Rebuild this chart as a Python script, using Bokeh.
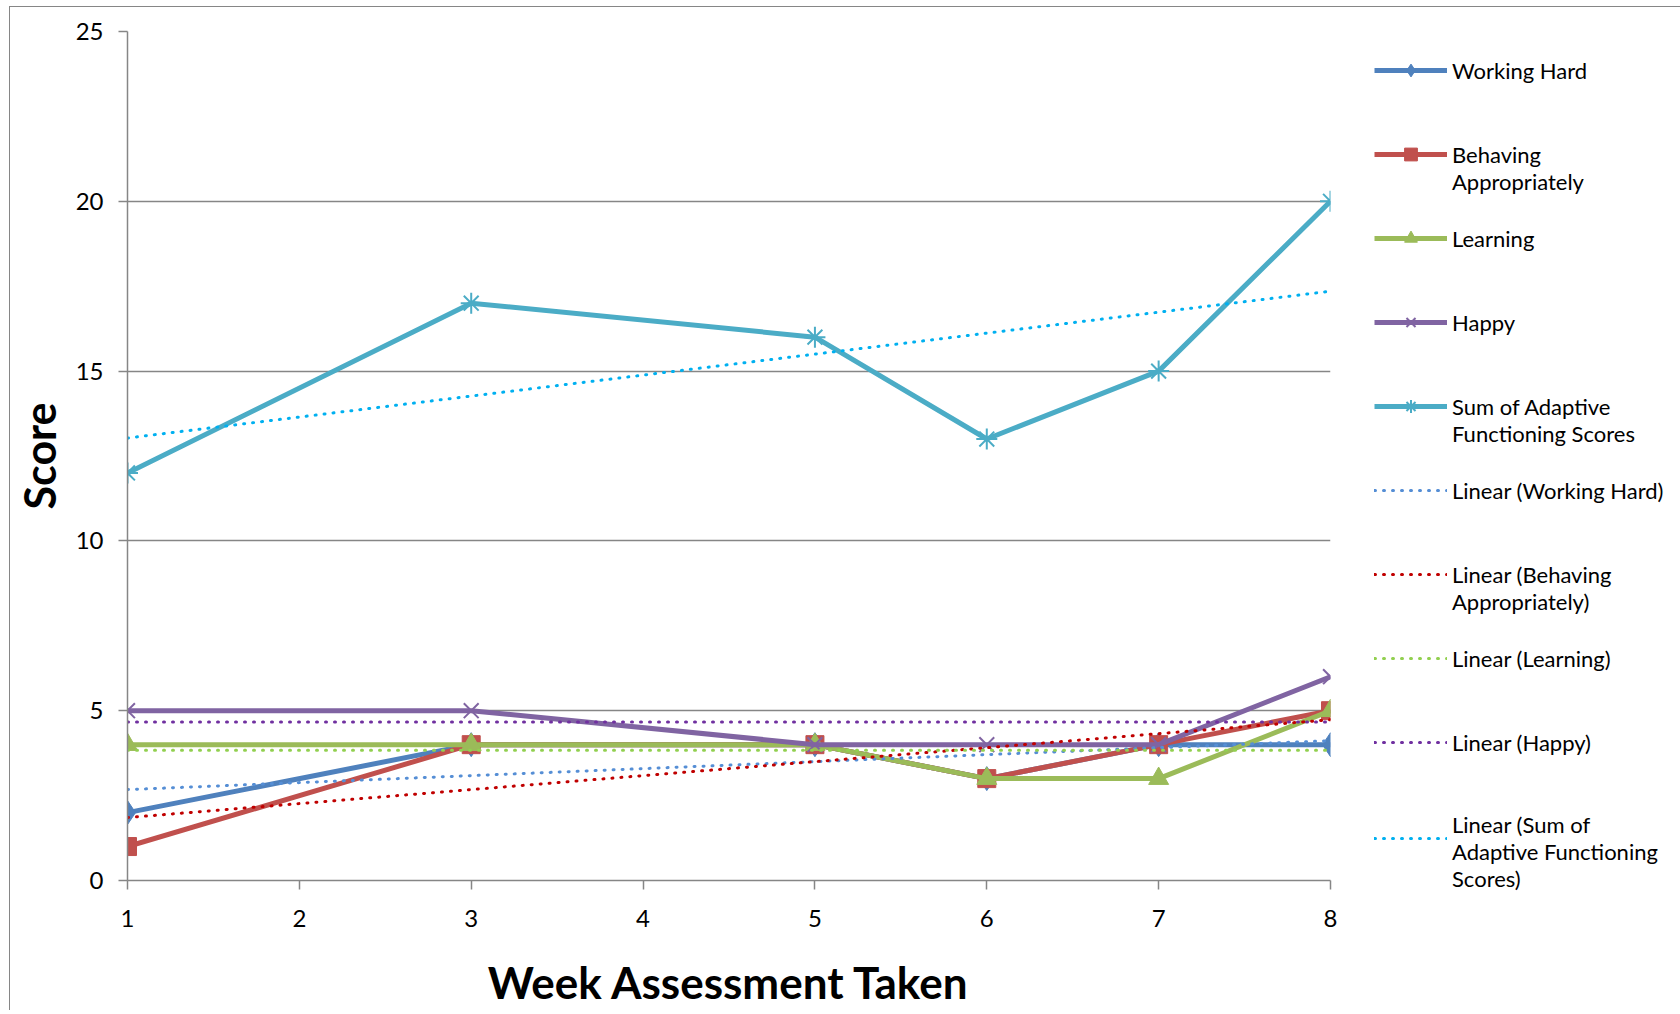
import numpy as np
from bokeh.plotting import figure
from bokeh.models import Legend, LegendItem, Range1d, FixedTicker
from bokeh.embed import file_html
from bokeh.resources import INLINE

weeks = [1, 3, 5, 6, 7, 8]
working_hard = [2, 4, 4, 3, 4, 4]
behaving = [1, 4, 4, 3, 4, 5]
learning = [4, 4, 4, 3, 3, 5]
happy = [5, 5, 4, 4, 4, 6]
sum_scores = [12, 17, 16, 13, 15, 20]
x_ticks = [1, 2, 3, 4, 5, 6, 7, 8]
y_ticks = [0, 5, 10, 15, 20, 25]

series_names = [["Working Hard"], ["Behaving", "Appropriately"], ["Learning"], ["Happy"],
                ["Sum of Adaptive", "Functioning Scores"]]
trend_names = [["Linear (Working Hard)"], ["Linear (Behaving", "Appropriately)"], ["Linear (Learning)"],
               ["Linear (Happy)"], ["Linear (Sum of", "Adaptive Functioning", "Scores)"]]
series_values = [working_hard, behaving, learning, happy, sum_scores]
line_colors = ["#4F81BD", "#C0504D", "#9BBB59", "#8064A2", "#4BACC6"]
trend_colors = ["#558ED5", "#C00000", "#92D050", "#7030A0", "#00B0F0"]
markers = ["diamond", "square", "triangle", "x", "asterisk"]
marker_sizes = [24, 18, 20, 21, 21]

FONT = "Lato"
PAD = "\u00a0"


def legend_label(lines):
    # pad above so that the first text line sits next to the legend glyph
    n_pad = min(len(lines) - 1, 1)
    return "\n".join([PAD] * n_pad + lines)


p = figure(frame_width=1203, frame_height=849, output_backend="svg", toolbar_location=None,
           x_range=Range1d(1, 8), y_range=Range1d(0, 25),
           min_border_left=116, min_border_right=0, min_border_top=24, min_border_bottom=0)
p.outline_line_color = None
p.background_fill_color = "white"
p.border_fill_color = "white"

p.xgrid.grid_line_color = None
p.ygrid.grid_line_color = "#868686"
p.ygrid.grid_line_width = 1.5
p.ygrid.ticker = FixedTicker(ticks=y_ticks)

p.xaxis.ticker = FixedTicker(ticks=x_ticks)
p.yaxis.ticker = FixedTicker(ticks=y_ticks)
for ax in (p.xaxis[0], p.yaxis[0]):
    ax.axis_line_color = "#868686"
    ax.axis_line_width = 1.5
    ax.major_tick_line_color = "#868686"
    ax.major_tick_line_width = 1.5
    ax.major_tick_in = 0
    ax.major_tick_out = 9
    ax.minor_tick_line_color = None
    ax.major_label_text_font = FONT
    ax.major_label_text_font_size = "24px"
    ax.major_label_text_color = "black"
    ax.axis_label_text_font = FONT
    ax.axis_label_text_font_style = "bold"
    ax.axis_label_text_color = "black"

p.xaxis.axis_label_text_font_size = "44px"
p.yaxis.axis_label_text_font_size = "43px"
p.xaxis.axis_label = "Week Assessment Taken"
p.yaxis.axis_label = "Score"
p.xaxis.major_label_standoff = 20
p.xaxis.axis_label_standoff = 26
p.yaxis.major_label_standoff = 15
p.yaxis.axis_label_standoff = 8

items = []
for name, vals, col, mk, ms in zip(series_names, series_values, line_colors, markers, marker_sizes):
    r1 = p.line(weeks, vals, line_color=col, line_width=5, line_join="round")
    if mk in ("x", "asterisk"):
        r2 = p.scatter(weeks, vals, marker=mk, size=ms, line_color=col, line_width=2)
    else:
        r2 = p.scatter(weeks, vals, marker=mk, size=ms, fill_color=col, line_color=col, line_width=1)
    items.append(LegendItem(label=legend_label(name), renderers=[r1, r2]))

for name, vals, col in zip(trend_names, series_values, trend_colors):
    slope, intercept = np.polyfit(weeks, vals, 1)
    xs = [min(weeks), max(weeks)]
    ys = [slope * x + intercept for x in xs]
    r = p.line(xs, ys, line_color=col, line_width=3, line_dash="1 8", line_cap="round")
    items.append(LegendItem(label=legend_label(name), renderers=[r]))

legend = Legend(items=items, location=(44, -12), orientation="vertical",
                glyph_width=73, glyph_height=32, label_standoff=5, spacing=0,
                label_height=84,
                padding=0, margin=0, border_line_color=None, background_fill_alpha=0,
                label_text_font=FONT, label_text_font_size="22px", label_text_color="black",
                label_text_line_height=1.14)
p.add_layout(legend, "right")

p.styles = {"margin-left": "9px", "margin-top": "6px",
            "border-left": "1px solid #868686", "border-top": "1px solid #868686"}

open("out.html", "w").write(file_html(p, INLINE))
